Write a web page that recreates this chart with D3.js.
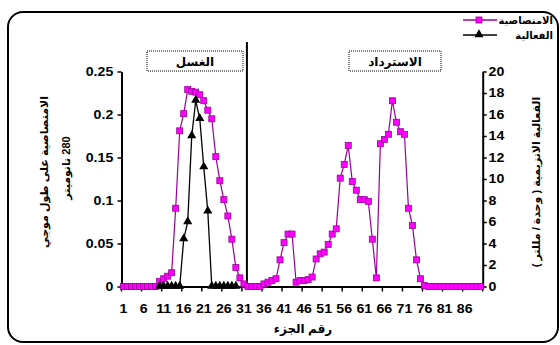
<!DOCTYPE html>
<html>
<head>
<meta charset="utf-8">
<script src="https://cdn.jsdelivr.net/npm/d3@7"></script>
<style>
html,body{margin:0;padding:0;background:#fff;overflow:hidden;}
#root{position:relative;width:560px;height:345px;}
#frame{position:absolute;left:7px;top:11px;width:548px;height:328px;border:2px solid #000;border-radius:16px;box-sizing:content-box;}
svg{display:block;position:absolute;left:0;top:0;}
svg text{font-family:"Liberation Sans",Arial,"DejaVu Sans",sans-serif;}
</style>
</head>
<body>
<div id="root"><div id="frame"></div></div>
<script>
// fraction numbers 1..90
var fractions = d3.range(1, 91);
var xTickLabels = [1, 6, 11, 16, 21, 26, 31, 36, 41, 46, 51, 56, 61, 66, 71, 76, 81, 86];
var leftTicks = [0, 0.05, 0.1, 0.15, 0.2, 0.25];
var rightTicks = [0, 2, 4, 6, 8, 10, 12, 14, 16, 18, 20];

// absorbance at 280 nm (left axis)
var absorbance = [
  0, 0, 0, 0, 0, 0, 0, 0, 0,
  0.006, 0.009, 0.012, 0.016, 0.091, 0.181, 0.201, 0.229, 0.227, 0.226, 0.223,
  0.216, 0.205, 0.195, 0.151, 0.123, 0.101, 0.082, 0.055, 0.022, 0.010,
  0.003, 0, 0, 0, 0, 0.003, 0.005, 0.007, 0.009, 0.031,
  0.051, 0.061, 0.061, 0.005, 0.007, 0.007, 0.008, 0.011, 0.032, 0.038,
  0.040, 0.049, 0.061, 0.067, 0.126, 0.142, 0.164, 0.122, 0.112, 0.101,
  0.101, 0.099, 0.055, 0.010, 0.166, 0.171, 0.177, 0.216, 0.191, 0.180,
  0.177, 0.091, 0.071, 0.031, 0.009, 0.001, 0, 0, 0, 0,
  0, 0, 0, 0, 0, 0, 0, 0, 0, 0
];
// enzyme activity (right axis), only measured for fractions 10-29
var activityFractions = [10, 11, 12, 13, 14, 15, 16, 17, 18, 19, 20, 21, 22, 23, 24, 25, 26, 27, 28, 29];
var activity = [0, 0, 0, 0, 0, 0, 4.4, 6.0, 14.0, 17.3, 15.6, 11.1, 7.0, 0, 0, 0, 0, 0, 0, 0];

var W = 560, H = 345;
var svg = d3.select('#root').append('svg').attr('width', W).attr('height', H);

var x = d3.scaleBand().domain(fractions).range([121.5, 482.7]).padding(0);
var yL = d3.scaleLinear().domain([0, 0.25]).range([286.5, 71.5]);
var yR = d3.scaleLinear().domain([0, 20]).range([286.5, 71.5]);
var cx = function(c){ return x(c) + x.bandwidth() / 2; };

var stretch = 'scale(1.18,1)';

// left axis
var gL = svg.append('g').attr('transform', 'translate(' + x.range()[0] + ',0)')
  .call(d3.axisLeft(yL).tickValues(leftTicks).tickSize(4).tickSizeOuter(0).tickFormat(function(d){ return d; }));
// right axis
var gR = svg.append('g').attr('transform', 'translate(' + x.range()[1] + ',0)')
  .call(d3.axisRight(yR).tickValues(rightTicks).tickSize(4).tickSizeOuter(0));
// bottom axis labels
var gB = svg.append('g').attr('transform', 'translate(0,' + yL(0) + ')')
  .call(d3.axisBottom(x).tickValues(xTickLabels).tickSize(0).tickSizeOuter(0));
gB.selectAll('text').attr('dy', '0.71em').attr('y', 18);

[gL, gR, gB].forEach(function(g){
  g.select('.domain').attr('stroke', '#000').attr('stroke-width', 2);
  g.selectAll('.tick line').attr('stroke', '#000').attr('stroke-width', 1.5);
  g.selectAll('text').attr('font-size', 12).attr('font-weight', 'bold').attr('fill', '#000')
    .attr('transform', stretch);
});
gL.selectAll('text').attr('x', -7);
gR.selectAll('text').attr('x', 5);

// category boundary ticks every 5 fractions
var bTicks = xTickLabels.map(function(c){ return x(c); }).concat([x.range()[1]]);
svg.append('g').selectAll('line').data(bTicks).enter().append('line')
  .attr('x1', function(d){ return d; }).attr('x2', function(d){ return d; })
  .attr('y1', yL(0)).attr('y2', yL(0) + 5)
  .attr('stroke', '#000').attr('stroke-width', 1.5);

// divider between wash and elution
svg.append('line').attr('x1', x(32) + 1).attr('x2', x(32) + 1).attr('y1', 42).attr('y2', yL(0))
  .attr('stroke', '#000').attr('stroke-width', 2);

// section boxes
var boxes = [{t: 'الغسل', x0: 147, x1: 243}, {t: 'الاسترداد', x0: 349, x1: 441}];
boxes.forEach(function(b){
  svg.append('rect').attr('x', b.x0).attr('y', 51).attr('width', b.x1 - b.x0).attr('height', 20)
    .attr('fill', '#fff').attr('stroke', '#000').attr('stroke-width', 1).attr('stroke-dasharray', '1,1');
  svg.append('text').attr('x', (b.x0 + b.x1) / 2).attr('y', 66).attr('text-anchor', 'middle')
    .attr('font-size', 12).attr('font-weight', 'bold').text(b.t);
});

// absorbance series
var lineA = d3.line().x(function(d, i){ return cx(fractions[i]); }).y(function(d){ return yL(d); });
svg.append('path').datum(absorbance).attr('d', lineA).attr('fill', 'none')
  .attr('stroke', '#990099').attr('stroke-width', 1.2);
svg.append('g').selectAll('rect').data(absorbance).enter().append('rect')
  .attr('x', function(d, i){ return cx(fractions[i]) - 3; })
  .attr('y', function(d){ return yL(d) - 3; })
  .attr('width', 6).attr('height', 6)
  .attr('fill', '#ff00ff').attr('stroke', '#990099').attr('stroke-width', 0.8);

// activity series
var lineB = d3.line().x(function(d, i){ return cx(activityFractions[i]); }).y(function(d){ return yR(d); });
svg.append('path').datum(activity).attr('d', lineB).attr('fill', 'none')
  .attr('stroke', '#000').attr('stroke-width', 1.3);
var tri = d3.symbol().type(d3.symbolTriangle).size(36);
svg.append('g').selectAll('path').data(activity).enter().append('path')
  .attr('d', tri)
  .attr('transform', function(d, i){ return 'translate(' + cx(activityFractions[i]) + ',' + (yR(d) - 0.5) + ')'; })
  .attr('fill', '#000');

// legend
var legend = [{t: 'الامتصاصية', y: 20, k: 'sq'}, {t: 'الفعالية', y: 35, k: 'tri'}];
legend.forEach(function(l){
  svg.append('line').attr('x1', 463).attr('x2', 497).attr('y1', l.y).attr('y2', l.y)
    .attr('stroke', l.k == 'sq' ? '#990099' : '#000').attr('stroke-width', 1.3);
  if(l.k == 'sq'){
    svg.append('rect').attr('x', 476).attr('y', l.y - 3).attr('width', 6).attr('height', 6)
      .attr('fill', '#ff00ff').attr('stroke', '#990099').attr('stroke-width', 0.8);
  }else{
    svg.append('path').attr('d', tri).attr('transform', 'translate(479,' + (l.y - 0.5) + ')').attr('fill', '#000');
  }
  svg.append('text').attr('x', 553).attr('y', l.y + 4).attr('text-anchor', 'end')
    .attr('font-size', 10).attr('font-weight', 'bold').text(l.t);
});

// axis titles
svg.append('text').attr('transform', 'translate(48,172) rotate(-90)').attr('text-anchor', 'middle')
  .attr('direction', 'rtl').attr('font-size', 11).attr('font-weight', 'bold')
  .text('الامتصاصية على طول موجي');
svg.append('text').attr('transform', 'translate(70,168) rotate(-90)').attr('text-anchor', 'middle')
  .attr('direction', 'rtl').attr('font-size', 11).attr('font-weight', 'bold')
  .text('280 نانوميتر');
svg.append('text').attr('transform', 'translate(540,182) rotate(-90)').attr('text-anchor', 'middle')
  .attr('direction', 'rtl').attr('font-size', 11).attr('font-weight', 'bold')
  .text('الفعالية الانزيمية ( وحدة / مللتر )');
svg.append('text').attr('x', 303).attr('y', 333).attr('text-anchor', 'middle')
  .attr('direction', 'rtl').attr('font-size', 12).attr('font-weight', 'bold')
  .text('رقم الجزء');
</script>
</body>
</html>
